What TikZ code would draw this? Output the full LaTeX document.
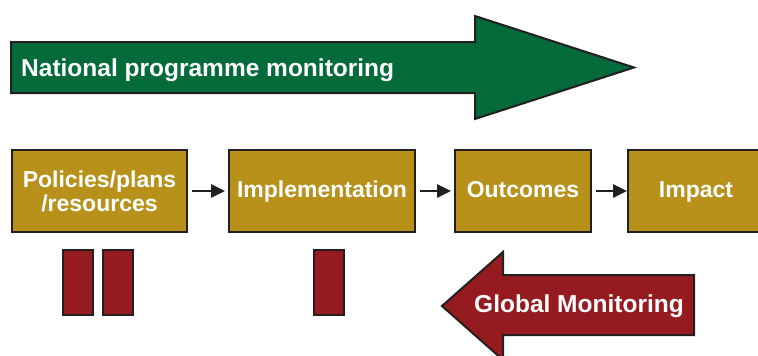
\documentclass[tikz,border=0pt]{standalone}
\usepackage{fontspec}
\setmainfont{Liberation Sans}
\usepackage{tikz}
\usetikzlibrary{arrows.meta}
\definecolor{natgreen}{RGB}{3,107,57}
\definecolor{stepgold}{RGB}{184,145,26}
\definecolor{globred}{RGB}{150,27,32}
\definecolor{rim}{RGB}{35,31,32}
\tikzset{box style/.style={
		draw=rim,
		line width=2pt,
		fill=stepgold,
		text=white,
		rectangle,
		minimum height=81.5pt,
		align=center,
		font=\bfseries\fontsize{23}{24}\selectfont,
		inner sep=0pt,
	},
	one line/.style={
		text height=17pt,
		text depth=5pt,
	},
	bar style/.style={
		draw=rim,
		line width=2pt,
		fill=globred,
		rectangle,
		minimum width=30pt,
		minimum height=65pt,
		inner sep=0pt,
	},
	big arrow/.style={
		draw=rim,
		line width=2pt,
		line join=miter,
		fill=#1,
	},
	arrow text/.style={
		text=white,
		anchor=base west,
		inner sep=0pt,
		font=\bfseries\fontsize{24.5}{26}\selectfont,
	},
	link style/.style={
		-{Triangle[length=14pt,width=13pt]},
		line width=2.7pt,
		draw=rim,
		shorten <=4pt,
		shorten >=3pt,
	}
}

\begin{document}
\begin{tikzpicture}[x=1pt,y=-1pt]
	\useasboundingbox (0,0) rectangle (758,356);
	\begin{scope}
	\clip (0,0) rectangle (758,356);

	% national monitoring, left to right
	\draw[big arrow=natgreen] (11,42) -- (475,42) -- (475,16) -- (634,67.5)
		-- (475,119) -- (475,93) -- (11,93) -- cycle;
	\node[arrow text] (National) at (21,76.5) {National programme monitoring};

	% the results chain
	\node[box style, minimum width=175pt] (Policies) at (99.5,191) {Policies/plans\\/resources};
	\node[box style, one line, minimum width=186pt] (Implementation) at (322,191) {Implementation};
	\node[box style, one line, minimum width=136pt] (Outcomes) at (523,191) {Outcomes};
	\node[box style, one line, minimum width=136pt] (Impact) at (696,191) {Impact};

	\draw[link style] (Policies) -- (Implementation);
	\draw[link style] (Implementation) -- (Outcomes);
	\draw[link style, shorten >=0pt] (Outcomes) -- (Impact);

	% bars under the first two steps
	\node[bar style] (BarA) at (78,282.5) {};
	\node[bar style] (BarB) at (118,282.5) {};
	\node[bar style] (BarC) at (329,282.5) {};

	% global monitoring, right to left
	\draw[big arrow=globred] (694,275) -- (503,275) -- (503,252) -- (442,306)
		-- (503,360) -- (503,335) -- (694,335) -- cycle;
	\node[arrow text] (Global) at (474,312.7) {Global Monitoring};
	\end{scope}
\end{tikzpicture}
\end{document}
